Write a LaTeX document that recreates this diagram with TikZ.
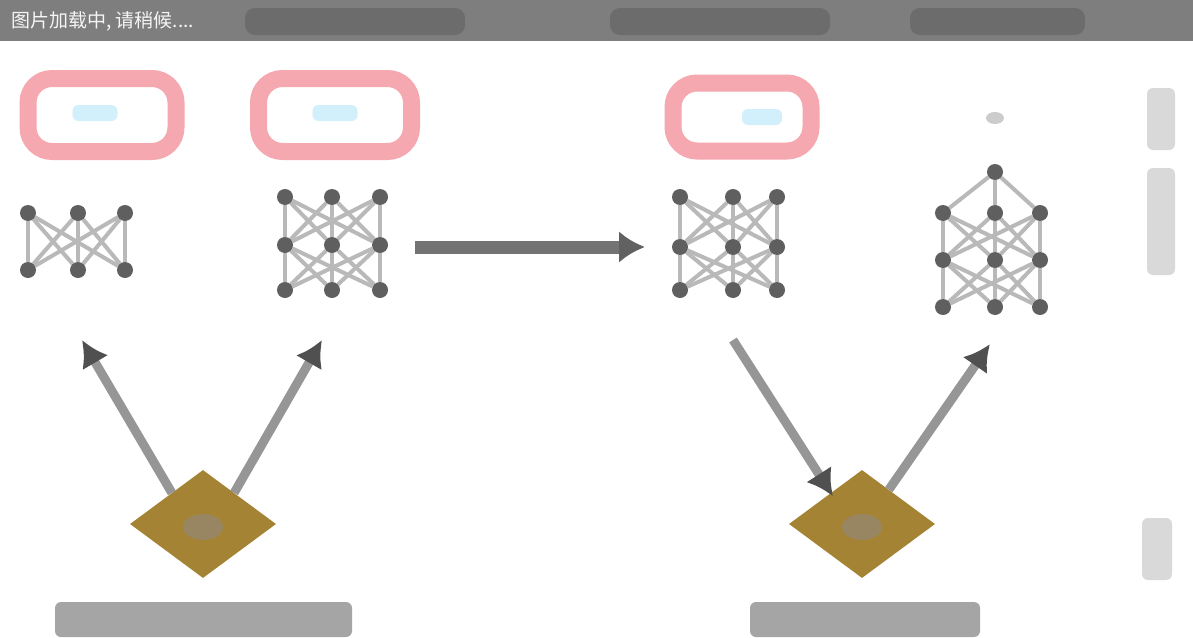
\documentclass[tikz,border=0pt]{standalone}
\usepackage{fontspec}
\newfontfamily\cjk{Noto Sans CJK SC}
\usetikzlibrary{arrows.meta,shapes.geometric,backgrounds}
\definecolor{barc}{RGB}{126,126,126}
\definecolor{barblob}{RGB}{108,108,108}
\definecolor{pinkc}{RGB}{245,168,175}
\definecolor{goldc}{RGB}{164,132,52}
\definecolor{goldin}{RGB}{150,135,110}
\definecolor{dotc}{RGB}{95,95,95}
\definecolor{edgec}{RGB}{185,185,185}
\definecolor{arrc}{RGB}{150,150,150}
\definecolor{headc}{RGB}{80,80,80}
\definecolor{labc}{RGB}{165,165,165}
\tikzset{
  dotn/.style={circle,fill=dotc,minimum size=16pt,inner sep=0pt},
  netedge/.style={draw=edgec,line width=4pt},
  pinkbox/.style={draw=pinkc,line width=17pt,rounded corners=24pt,fill=white,inner sep=0pt},
  gem/.style={diamond,fill=goldc,inner sep=0pt},
  smudge/.style={fill=labc,rounded corners=6pt},
  sidesmudge/.style={fill=gray!30,rounded corners=6pt},
  cyanblob/.style={fill=cyan!18,rounded corners=6pt},
  arr/.style={draw=arrc,line width=9pt,-{Latex[length=26pt,width=30pt,color=headc,fill=headc]}},
  bigarr/.style={draw=black!55,line width=13pt,-{Latex[length=26pt,width=32pt,color=black!62,fill=black!62]}}
}
\begin{document}
\begin{tikzpicture}[x=1pt,y=-1pt]
\useasboundingbox (0,0) rectangle (1193,637);
% top bar
\fill[barc] (0,0) rectangle (1193,41);
\fill[barblob,rounded corners=10pt] (245,8) rectangle (465,35);
\fill[barblob,rounded corners=10pt] (610,8) rectangle (830,35);
\fill[barblob,rounded corners=10pt] (910,8) rectangle (1085,35);
\node[anchor=west,text=white!92!gray,inner sep=0pt,font=\cjk\fontsize{19}{21}\selectfont] (loading) at (11,21) {图片加载中, 请稍候....};
% pink boxes
\node[pinkbox,minimum width=148pt,minimum height=73pt] (b1) at (102,115) {};
\node[pinkbox,minimum width=153pt,minimum height=73pt] (b2) at (335,115) {};
\node[pinkbox,minimum width=138pt,minimum height=68pt] (b3) at (742,117) {};
\node[cyanblob,minimum width=45pt,minimum height=16pt] (c1) at (95,113) {};
\node[cyanblob,minimum width=45pt,minimum height=16pt] (c2) at (335,113) {};
\node[cyanblob,minimum width=40pt,minimum height=16pt] (c3) at (762,117) {};
% grid 1 (2x3)
\foreach \r/\y in {1/213,2/270}
  \foreach \c/\x in {1/28,2/78,3/125}
    \node[dotn] (ga-\r-\c) at (\x,\y) {};
% grid 2 (3x3)
\foreach \r/\y in {1/197,2/245,3/290}
  \foreach \c/\x in {1/285,2/332,3/380}
    \node[dotn] (gb-\r-\c) at (\x,\y) {};
% grid 3 (3x3)
\foreach \r/\y in {1/197,2/247,3/290}
  \foreach \c/\x in {1/680,2/733,3/777}
    \node[dotn] (gc-\r-\c) at (\x,\y) {};
% grid 4 (pyramid)
\node[dotn] (gd-0) at (995,172) {};
\foreach \r/\y in {1/213,2/260,3/307}
  \foreach \c/\x in {1/943,2/995,3/1040}
    \node[dotn] (gd-\r-\c) at (\x,\y) {};
\node[fill=gray!40,ellipse,minimum width=18pt,minimum height=12pt] (top4) at (995,118) {};
\begin{scope}[on background layer]
  \fill[white] (0,41) rectangle (1193,637);
  \foreach \c in {1,2,3} \foreach \d in {1,2,3} {
    \draw[netedge] (ga-1-\c) -- (ga-2-\d);
    \draw[netedge] (gb-1-\c) -- (gb-2-\d);
    \draw[netedge] (gb-2-\c) -- (gb-3-\d);
    \draw[netedge] (gc-1-\c) -- (gc-2-\d);
    \draw[netedge] (gc-2-\c) -- (gc-3-\d);
    \draw[netedge] (gd-1-\c) -- (gd-2-\d);
    \draw[netedge] (gd-2-\c) -- (gd-3-\d);
  }
  \foreach \c in {1,2,3} \draw[netedge] (gd-0) -- (gd-1-\c);
\end{scope}
% big arrow
\coordinate (h1) at (415,247);
\coordinate (h2) at (645,247);
\draw[bigarr] (h1) -- (h2);
% diamonds
\node[gem,minimum width=146pt,minimum height=108pt] (d1) at (203,524) {};
\node[gem,minimum width=146pt,minimum height=108pt] (d2) at (862,524) {};
\node[fill=goldin,ellipse,minimum width=40pt,minimum height=26pt,opacity=0.8] (d1c) at (203,527) {};
\node[fill=goldin,ellipse,minimum width=40pt,minimum height=26pt,opacity=0.8] (d2c) at (862,527) {};
% arrows
\coordinate (t1) at (82,340);
\coordinate (t2) at (322,340);
\coordinate (t3) at (733,340);
\coordinate (t4) at (990,344);
\draw[arr] (d1.135) -- (t1);
\draw[arr] (d1.45) -- (t2);
\draw[arr] (t3) -- ([shift={(-4pt,-8pt)}]d2.125);
\draw[arr] (d2.52) -- (t4);
% blurred labels
\fill[smudge] (55,602) rectangle (352,637);
\fill[smudge] (750,602) rectangle (980,637);
\fill[sidesmudge] (1147,88) rectangle (1175,150);
\fill[sidesmudge] (1147,168) rectangle (1175,275);
\fill[sidesmudge] (1142,518) rectangle (1172,580);
\end{tikzpicture}
\end{document}
